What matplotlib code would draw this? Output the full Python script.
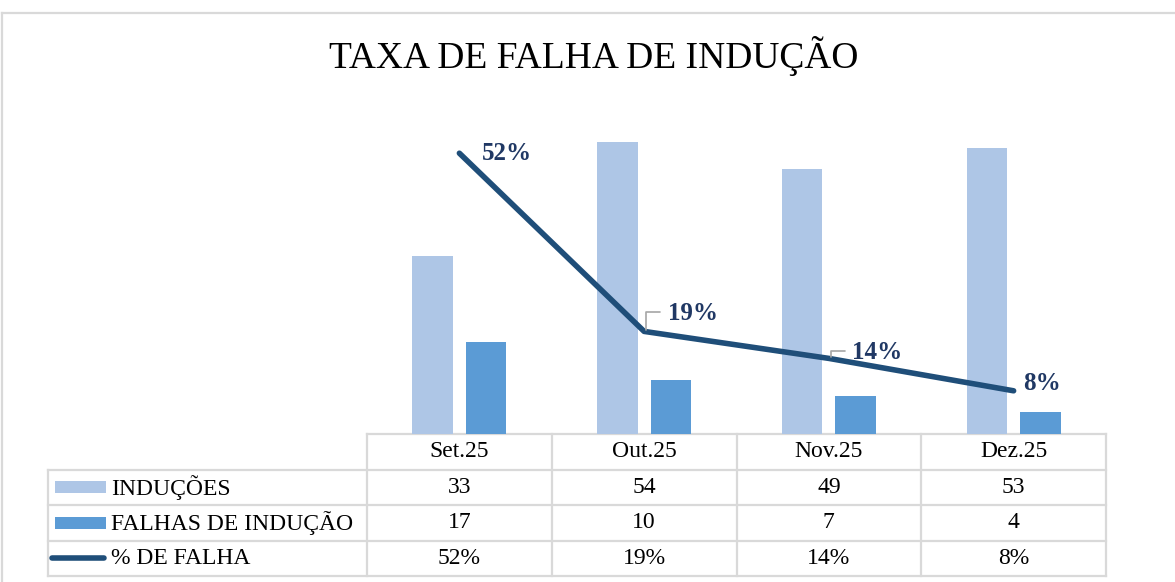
import matplotlib.pyplot as plt
import numpy as np

plt.rcParams['font.family'] = 'Liberation Serif'

# data
meses = ['Set.25', 'Out.25', 'Nov.25', 'Dez.25']
inducoes = [33, 54, 49, 53]
falhas = [17, 10, 7, 4]
pct_falha = [0.52, 0.19, 0.14, 0.08]
series = ['INDUÇÕES', 'FALHAS DE INDUÇÃO', '% DE FALHA']

c_ind = '#AEC6E6'
c_fal = '#5B9BD5'
c_line = '#1F4E79'
c_lab = '#203864'
c_grid = '#D9D9D9'

W, H = 1175, 582
fig = plt.figure(figsize=(W / 100, H / 100), dpi=100)

# plot area in pixels
px_l, px_r, px_t, px_b = 367, 1106, 110, 434
ax = fig.add_axes([px_l / W, 1 - px_b / H, (px_r - px_l) / W, (px_b - px_t) / H])
x = np.arange(len(meses))
ax.bar(x - 0.145, inducoes, width=0.22, color=c_ind, zorder=2)
ax.bar(x + 0.145, falhas, width=0.22, color=c_fal, zorder=2)
ax.set_xlim(-0.5, len(meses) - 0.5)
ax.set_ylim(0, 60)
ax.axis('off')

ax2 = ax.twinx()
ax2.plot(x, pct_falha, color=c_line, lw=4, solid_capstyle='round', solid_joinstyle='round', zorder=3)
ax2.set_ylim(0, 0.6)
ax2.axis('off')

# data labels (offsets in points)
offs = [(16, 0), (17, 13), (17, 4), (7, 5)]
leader = [False, True, True, False]
for i, v in enumerate(pct_falha):
    dx, dy = offs[i]
    ax2.annotate(f'{round(v * 100)}%', xy=(i, v), xytext=(dx, dy), textcoords='offset points',
                 ha='left', va='center', fontsize=18, fontweight='bold', color=c_lab, zorder=4)
    if leader[i]:
        ax2.annotate('', xy=(i + 0.01, v + 0.003), xytext=(dx - 7, dy), textcoords='offset points',
                     arrowprops=dict(arrowstyle='-', color='#A6A6A6', lw=1.2, shrinkA=0, shrinkB=0,
                                     connectionstyle='angle,angleA=0,angleB=90,rad=0'))

# overlay in pixel coordinates for title, table and border
ov = fig.add_axes([0, 0, 1, 1], zorder=-1)
ov.set_xlim(0, W)
ov.set_ylim(H, 0)
ov.axis('off')

ov.plot([2, W], [13, 13], color=c_grid, lw=1.6)
ov.plot([2, 2], [13, H], color=c_grid, lw=1.6)

ov.text(594, 56, 'TAXA DE FALHA DE INDUÇÃO', ha='center', va='center', fontsize=27)

# table
col_w = (px_r - px_l) / len(meses)
rows = [px_b, 469.5, 505, 540.5, 576]
leg_l = 48
gkw = dict(color=c_grid, lw=1.6)
ov.plot([px_l, px_r], [rows[0], rows[0]], **gkw)
for r in rows[1:]:
    ov.plot([leg_l, px_r], [r, r], **gkw)
ov.plot([leg_l, leg_l], [rows[1], rows[-1]], **gkw)
for j in range(len(meses) + 1):
    xc = px_l + j * col_w
    ov.plot([xc, xc], [rows[0], rows[-1]], **gkw)

tkw = dict(ha='center', va='center', fontsize=17)
for j, m in enumerate(meses):
    xc = px_l + (j + 0.5) * col_w
    ov.text(xc, (rows[0] + rows[1]) / 2, m, **tkw)
    ov.text(xc, (rows[1] + rows[2]) / 2, str(inducoes[j]), **tkw)
    ov.text(xc, (rows[2] + rows[3]) / 2, str(falhas[j]), **tkw)
    ov.text(xc, (rows[3] + rows[4]) / 2, f'{round(pct_falha[j] * 100)}%', **tkw)

# legend keys
for k, name in enumerate(series):
    yc = (rows[k + 1] + rows[k + 2]) / 2
    if k < 2:
        ov.add_patch(plt.Rectangle((55, yc - 6), 51, 12, color=[c_ind, c_fal][k], lw=0))
    else:
        ov.plot([52, 104], [yc, yc], color=c_line, lw=4, solid_capstyle='round')
    ov.text(111, yc, name, ha='left', va='center', fontsize=17)

fig.savefig('out.png', dpi=100)
